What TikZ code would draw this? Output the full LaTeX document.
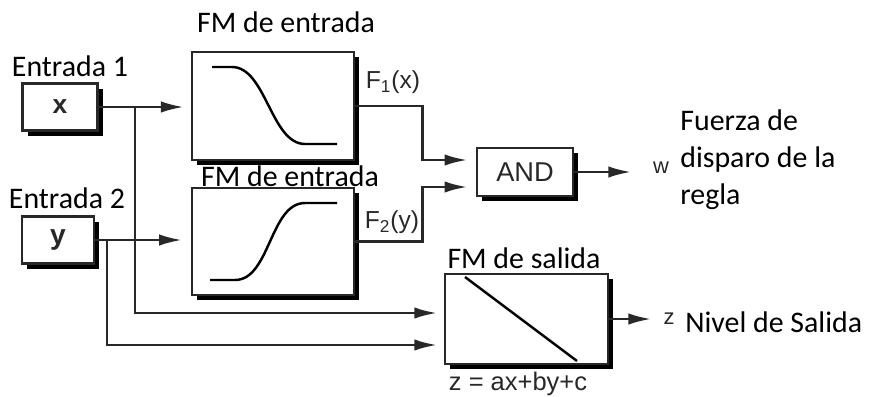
\documentclass[tikz,border=0pt]{standalone}
\usepackage{fontspec}
\setmainfont{Carlito}
\newfontfamily\arialfont{Liberation Sans}
\usetikzlibrary{arrows.meta,positioning,shadows}
\definecolor{linegray}{RGB}{40,40,40}
\tikzset{
  blk/.style={draw=linegray, line width=1.4pt, fill=white, inner sep=0pt,
    drop shadow={shadow xshift=3pt, shadow yshift=-3pt, fill=black, opacity=1}},
  wire/.style={draw=linegray, line width=1.5pt},
  sig/.style={wire, -{Latex[length=13pt,width=6.5pt]}},
  curve/.style={draw=black, line width=1.4pt},
  ttl/.style={font=\fontsize{17}{21}\selectfont, inner sep=0pt},
  sym/.style={font=\arialfont\fontsize{14}{16}\selectfont, text=linegray, inner sep=0pt}
}

\begin{document}
\begin{tikzpicture}[x=0.02cm, y=-0.02cm]
  \useasboundingbox (0,0) rectangle (871,396);

  % bloques
  \node[blk, minimum width=75*0.02cm, minimum height=47*0.02cm] (xin) at (60,107) {};
  \node[sym, font=\arialfont\bfseries\fontsize{15}{16}\selectfont] at (xin) {x};
  \node[blk, minimum width=72*0.02cm, minimum height=47*0.02cm] (yin) at (58,240) {};
  \node[sym, font=\arialfont\bfseries\fontsize{16}{16}\selectfont] at (yin) {y};
  \node[blk, minimum width=162*0.02cm, minimum height=108*0.02cm] (fmone) at (273,106) {};
  \node[blk, minimum width=162*0.02cm, minimum height=107*0.02cm] (fmtwo) at (273,241.5) {};
  \node[blk, minimum width=96*0.02cm, minimum height=48*0.02cm, sym,
    font=\arialfont\fontsize{15.5}{16}\selectfont] (andgate) at (525,172) {AND};
  \node[blk, minimum width=163*0.02cm, minimum height=90*0.02cm] (fmout) at (526.5,319) {};

  % funciones de pertenencia
  \draw[curve] (212,67) -- (232,67) .. controls (266,67) and (271,144) .. (305,144) -- (337,144);
  \draw[curve] (210,280) -- (235,280) .. controls (270,280) and (270,203) .. (305,203) -- (337,203);
  \draw[curve] (465,277) -- (577,361);

  % etiquetas
  \node[ttl] (entuno) at (70,66) {Entrada 1};
  \node[ttl] (entdos) at (67,198) {Entrada 2};
  \node[ttl] (fmonelbl) at (286,22) {FM de entrada};
  \node[ttl] (fmtwolbl) at (290,176) {FM de entrada};
  \node[ttl] (fmoutlbl) at (524,258) {FM de salida};
  \node[sym] (fonelbl) at (393,82) {F\textsubscript{1}(x)};
  \node[sym] (ftwolbl) at (392,222) {F\textsubscript{2}(y)};
  \node[sym, font=\arialfont\fontsize{14.5}{16}\selectfont] (eqlbl) at (518,384) {z = ax+by+c};
  \node[sym, font=\arialfont\fontsize{12.5}{14}\selectfont] (wlbl) at (661,168) {w};
  \node[sym, font=\arialfont\fontsize{12.5}{14}\selectfont] (zlbl) at (669,319) {z};
  \node[ttl, align=left, anchor=west] (fuerza) at (680,160) {Fuerza de\\disparo de la\\regla};
  \node[ttl, anchor=west] (nivel) at (685,322) {Nivel de Salida};

  % conexiones
  \coordinate (xbr) at (135,107);
  \coordinate (ybr) at (107,240);
  \coordinate (outinx) at (445,313);
  \coordinate (outiny) at (445,345);
  \coordinate (andinone) at (477,160);
  \coordinate (andintwo) at (477,187);

  \draw[sig, shorten >=4pt] (xin.east) -- (xin.east -| fmone.west);
  \draw[sig, shorten >=5pt] (yin.east) -- (yin.east -| fmtwo.west);
  \draw[sig, shorten >=4.5pt] (xbr) |- (outinx);
  \draw[sig, shorten >=4.5pt] (ybr) |- (outiny);
  \draw[sig, shorten >=5.5pt] (fmone.east) -- ++(67,0) |- (andinone);
  \draw[sig, shorten >=5.5pt] (fmtwo.east) -- ++(67,0) |- (andintwo);
  \draw[sig] (andgate.east) -- ++(57,0);
  \draw[sig] (fmout.east) -- ++(42,0);
\end{tikzpicture}
\end{document}
